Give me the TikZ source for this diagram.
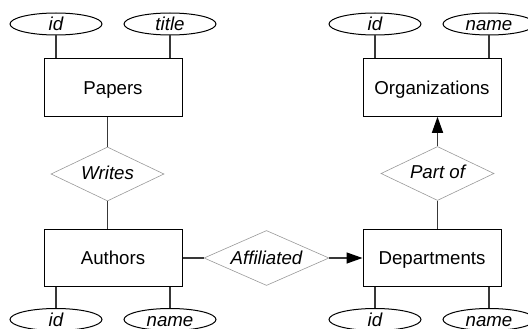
\documentclass[tikz,border=0pt]{standalone}
\usepackage{fontspec}
\setmainfont{Liberation Sans}
\usetikzlibrary{shapes.geometric,arrows.meta}
\newcommand\ertxt[2]{\raisebox{-#1}[0pt][0pt]{\makebox[0pt]{\itshape #2}}}
\begin{document}
\begin{tikzpicture}[x=1pt,y=-1pt,
  every node/.style={font=\fontsize{18.67}{22}\selectfont},
  entity/.style={draw=black, line width=1pt, minimum width=138pt, minimum height=57.5pt, inner sep=0pt, text height=13.4pt, text depth=0pt},
  attr/.style={draw=black, line width=1pt, ellipse, minimum width=92pt, minimum height=22pt, inner sep=0pt},
  rel/.style={draw=black!40, line width=0.6pt, diamond, inner sep=0pt, minimum width=113pt, minimum height=54pt},
  conn/.style={draw=black!78, line width=1.4pt},
  arr/.style={conn, -{Triangle[length=16pt,width=11pt,color=black,fill=black]}}
]
\useasboundingbox (0,0) rectangle (528,329);
% entities
\node[entity] (papers)  at (113,87.5) {Papers};
\node[entity] (orgs)    at (432,87.5) {Organizations};
\node[entity] (authors) at (113,258)  {Authors};
\node[entity] (depts)   at (432,258)  {Departments};
% relationships
\node[rel] (writes) at (107.5,174) {\ertxt{5.5pt}{Writes}};
\node[rel] (partof) at (437.5,173.5) {\ertxt{5.5pt}{Part of}};
\node[rel, minimum width=125pt, minimum height=55pt] (aff) at (266.5,258) {\ertxt{6pt}{Affiliated}};
% attributes
\node[attr] (pid)    at (56,24)   {\ertxt{7pt}{id}};
\node[attr] (ptitle) at (170,24)  {\ertxt{7pt}{title}};
\node[attr] (oid)    at (375,24)  {\ertxt{7pt}{id}};
\node[attr] (oname)  at (489,24)  {\ertxt{7pt}{name}};
\node[attr] (aid)    at (56,319.5)  {\ertxt{6.5pt}{id}};
\node[attr] (aname)  at (170,319.5) {\ertxt{6.5pt}{name}};
\node[attr] (did)    at (375,319.5) {\ertxt{6.5pt}{id}};
\node[attr] (dname)  at (489,319.5) {\ertxt{6.5pt}{name}};
% attribute connectors
\draw[conn] (pid.south) -- (pid.south |- papers.north);
\draw[conn] (ptitle.south) -- (ptitle.south |- papers.north);
\draw[conn] (oid.south) -- (oid.south |- orgs.north);
\draw[conn] (oname.south) -- (oname.south |- orgs.north);
\draw[conn] (aid.north) -- (aid.north |- authors.south);
\draw[conn] (aname.north) -- (aname.north |- authors.south);
\draw[conn] (did.north) -- (did.north |- depts.south);
\draw[conn] (dname.north) -- (dname.north |- depts.south);
% relationship connectors
\draw[conn] (writes.north) -- (writes.north |- papers.south);
\draw[conn] (writes.south) -- (writes.south |- authors.north);
\draw[arr] (partof.north) -- (partof.north |- orgs.south);
\draw[conn] (partof.south) -- (partof.south |- depts.north);
\draw[conn] (authors.east) -- (aff.west);
\draw[arr] (aff.east) -- (depts.west);
\end{tikzpicture}
\end{document}
